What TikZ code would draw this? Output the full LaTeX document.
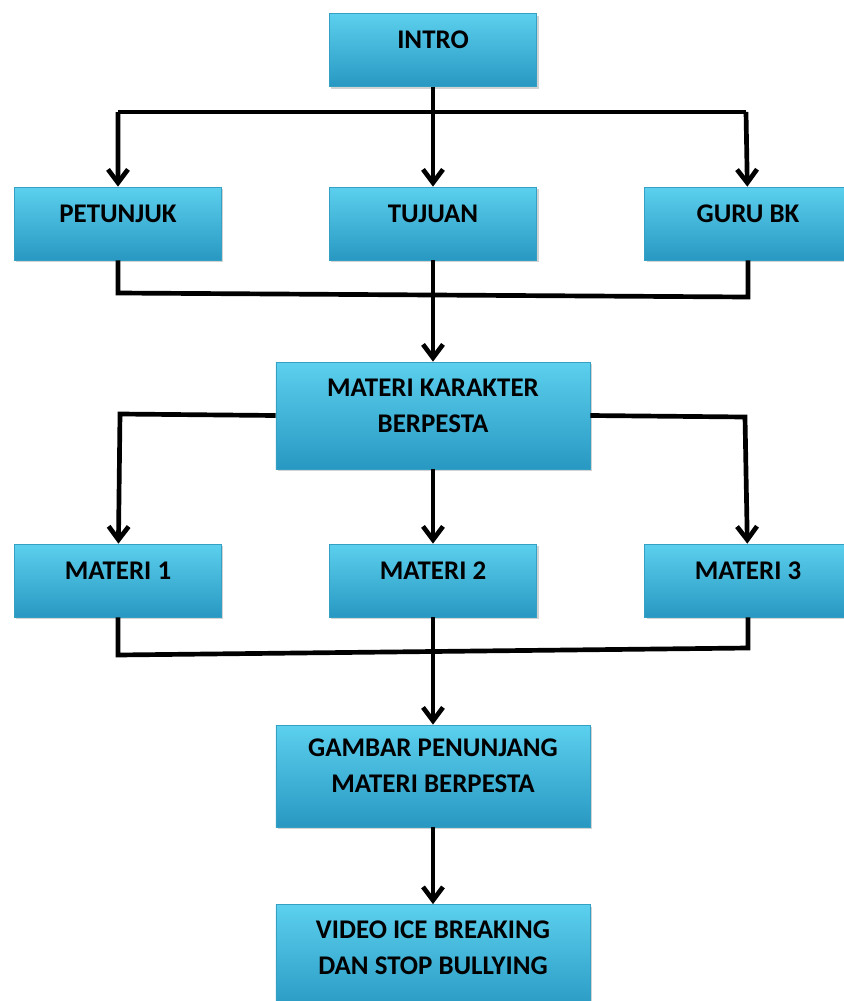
\documentclass[tikz,border=0pt]{standalone}
\usepackage{fontspec}
\setmainfont{Carlito}
\usepackage{tikz}
\usetikzlibrary{positioning, arrows.meta, shadows}
\definecolor{boxtop}{RGB}{92,208,238}
\definecolor{boxbot}{RGB}{40,152,194}
\definecolor{boxedge}{RGB}{52,160,196}
\tikzset{
arr/.style={-{Straight Barb[length=0.4cm,width=0.6cm]}}, % arrow tip used on the connectors
box/.style={rectangle, inner sep=0pt, top color=boxtop, bottom color=boxbot, draw=boxedge, line width=0.6pt,
  drop shadow={shadow xshift=0.06cm, shadow yshift=-0.06cm, opacity=0.35},
  font=\bfseries\fontsize{23}{30.7}\selectfont, align=center, text depth=0.6cm}, % sets the look of every box
small/.style={box, minimum width=6.21cm, minimum height=2.19cm}, % boxes in the three columns
big/.style={box, minimum width=9.42cm, minimum height=3.21cm}, % wide boxes in the middle
}

\begin{document}
\begin{tikzpicture}[x=0.03cm, y=-0.03cm, node distance={9.45cm}, line width=4pt]
    \useasboundingbox (0,0) rectangle (844,1001);

    \node[small] (1) at (433,50) {INTRO};
    \node[small] (2) at (433,223.5) {TUJUAN};
    \node[small] (3) [left of=2] {PETUNJUK};
    \node[small] (4) [right of=2] {GURU BK};
    \node[big] (5) at (433,415.5) {MATERI KARAKTER\\BERPESTA};
    \node[small] (6) at (433,580.5) {MATERI 2};
    \node[small] (7) [left of=6] {MATERI 1};
    \node[small] (8) [right of=6] {MATERI 3};
    \node[big, minimum height=3.06cm] (9) at (433,776) {GAMBAR PENUNJANG\\MATERI BERPESTA};
    \node[big] (10) at (433,958) {VIDEO ICE BREAKING\\DAN STOP BULLYING};

    \coordinate (a) at (118,112);
    \coordinate (b) at (746,112);
    \coordinate (c) at (118,293);
    \coordinate (d) at (748,297);
    \coordinate (e) at (120,414);
    \coordinate (f) at (745,417);
    \coordinate (g) at (118,655);
    \coordinate (h) at (748,648);

    \draw (a) -- (b);
    \draw [arr] (1) -- (2);
    \draw [arr] (a) -- (3);
    \draw [arr] (b) -- (4);
    \draw (3) -- (c) -- (d) -- (4);
    \draw [arr] (2) -- (5);
    \draw [arr] (5.west) -- (e) -- (7);
    \draw [arr] (5.east) -- (f) -- (8);
    \draw [arr] (5) -- (6);
    \draw (7) -- (g) -- (h) -- (8);
    \draw [arr] (6) -- (9);
    \draw [arr] (9) -- (10);
\end{tikzpicture}
\end{document}
